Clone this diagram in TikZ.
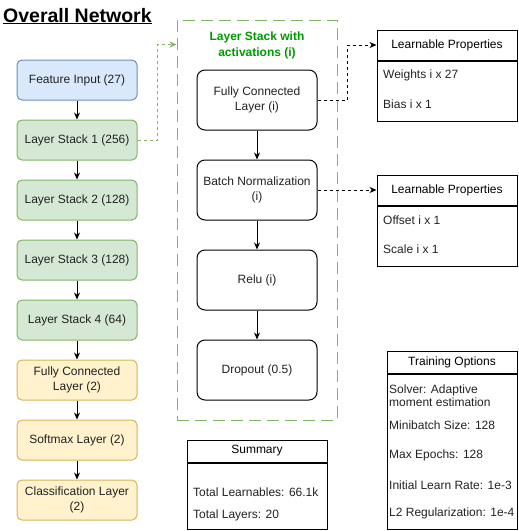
\documentclass[tikz,border=0pt]{standalone}
\usepackage{fontspec}
\setmainfont{Liberation Sans}
\usetikzlibrary{calc}
\usetikzlibrary{arrows.meta}
\definecolor{bluefill}{HTML}{DAE8FC}
\definecolor{bluedraw}{HTML}{6C8EBF}
\definecolor{grnfill}{HTML}{D5E8D4}
\definecolor{grndraw}{HTML}{82B366}
\definecolor{ylwfill}{HTML}{FFF2CC}
\definecolor{ylwdraw}{HTML}{D6B656}
\definecolor{grntitle}{HTML}{009900}
\definecolor{txt}{HTML}{222222}
\tikzset{
  lyr/.style={draw, line width=1pt, rounded corners=5pt, minimum width=120pt,
    minimum height=40pt, align=center, text=txt,
    font=\fontsize{12}{15}\selectfont},
  inlyr/.style={draw=black, fill=white, line width=1pt, rounded corners=8pt,
    minimum width=120pt, minimum height=60pt, align=center, text=txt,
    font=\fontsize{12}{15}\selectfont},
  tbl/.style={draw=black, line width=1pt, minimum width=#1, inner sep=0pt},
  item/.style={anchor=west, inner sep=0pt, text=txt, align=left,
    font=\fontsize{12}{13}\selectfont},
  flow/.style={line width=1pt, -{Stealth[length=7pt,width=6pt]}},
  link/.style={line width=0.8pt, dash pattern=on 3pt off 3pt,
    -{Stealth[length=7pt,width=6pt]}}
}
\begin{document}
\begin{tikzpicture}[x=1pt, y=-1pt]
    \useasboundingbox (0,0) rectangle (519,531);
    % judul
    \node[anchor=base west, inner sep=0pt, font=\fontsize{19.5}{22}\selectfont\bfseries]
      (ttl) at (3,22) {\underline{Overall Network}};

    % jaringan utama
    \node[lyr, fill=bluefill, draw=bluedraw] (fi)  at (77,80)  {Feature Input (27)};
    \node[lyr, fill=grnfill, draw=grndraw]   (ls1) at (77,140) {Layer Stack 1 (256)};
    \node[lyr, fill=grnfill, draw=grndraw]   (ls2) at (77,200) {Layer Stack 2 (128)};
    \node[lyr, fill=grnfill, draw=grndraw]   (ls3) at (77,260) {Layer Stack 3 (128)};
    \node[lyr, fill=grnfill, draw=grndraw]   (ls4) at (77,320) {Layer Stack 4 (64)};
    \node[lyr, fill=ylwfill, draw=ylwdraw]   (fc)  at (77,380) {Fully Connected\\Layer (2)};
    \node[lyr, fill=ylwfill, draw=ylwdraw]   (sm)  at (77,440) {Softmax Layer (2)};
    \node[lyr, fill=ylwfill, draw=ylwdraw]   (cl)  at (77,500) {Classification Layer\\(2)};
    \foreach \a/\b in {fi/ls1, ls1/ls2, ls2/ls3, ls3/ls4, ls4/fc, fc/sm, sm/cl}
      \draw[flow] (\a) -- (\b);

    % isi layer stack
    \node[draw=grndraw, line width=1pt, dash pattern=on 12pt off 6pt,
      minimum width=160pt, minimum height=400pt] (stk) at (257,220) {};
    \node[align=center, text=grntitle, font=\fontsize{12}{16}\selectfont\bfseries]
      (stkttl) at (257,45) {Layer Stack with\\activations (i)};
    \node[inlyr] (fcl)  at (257,100) {Fully Connected\\Layer (i)};
    \node[inlyr] (bn)   at (257,190) {Batch Normalization\\(i)};
    \node[inlyr] (relu) at (257,280) {Relu (i)};
    \node[inlyr] (drop) at (257,370) {Dropout (0.5)};
    \foreach \a/\b in {fcl/bn, bn/relu, relu/drop}
      \draw[flow] (\a) -- (\b);
    \coordinate (stkin) at ($(stk.north west)+(0,25)$);
    \draw[link, draw=grndraw, -{Stealth[length=7pt,width=6pt,fill=grndraw]}]
      (ls1.east) -- ++(20,0) |- (stkin);

    % learnable properties
    \node[tbl=140pt, minimum height=30pt] (pr1h) at (447,45) {\fontsize{12}{14}\selectfont Learnable Properties};
    \node[tbl=140pt, minimum height=60pt, anchor=north] (pr1b) at (pr1h.south) {};
    \node[item] (pr1w) at (383,75)  {Weights i x 27};
    \node[item] (pr1c) at (383,104) {Bias i x 1};
    \node[tbl=140pt, minimum height=30pt] (pr2h) at (447,190) {\fontsize{12}{14}\selectfont Learnable Properties};
    \node[tbl=140pt, minimum height=60pt, anchor=north] (pr2b) at (pr2h.south) {};
    \node[item] (pr2o) at (383,220) {Offset i x 1};
    \node[item] (pr2s) at (383,249) {Scale i x 1};
    \draw[link] (fcl.east) -- ++(30,0) |- (pr1h.west);
    \draw[link] (bn.east) -- (pr2h.west);

    % ringkasan
    \node[tbl=140pt, minimum height=22pt] (sumh) at (257,451) {\fontsize{12}{14}\selectfont Summary};
    \node[tbl=140pt, minimum height=66.5pt, anchor=north] (sumb) at (sumh.south) {};
    \node[item] (sum1) at (193,492) {Total Learnables: 66.1k};
    \node[item] (sum2) at (193,515) {Total Layers: 20};

    % opsi training
    \node[tbl=130pt, minimum height=22pt] (trh) at (452,362) {\fontsize{12}{14}\selectfont Training Options};
    \node[tbl=130pt, minimum height=155.5pt, anchor=north] (trb) at (trh.south) {};
    \node[item] (tr1) at (389,396) {Solver: Adaptive\\moment estimation};
    \node[item] (tr2) at (389,425) {Minibatch Size: 128};
    \node[item] (tr3) at (389,455) {Max Epochs: 128};
    \node[item] (tr4) at (389,485) {Initial Learn Rate: 1e-3};
    \node[item] (tr5) at (389,513) {L2 Regularization: 1e-4};
\end{tikzpicture}
\end{document}
